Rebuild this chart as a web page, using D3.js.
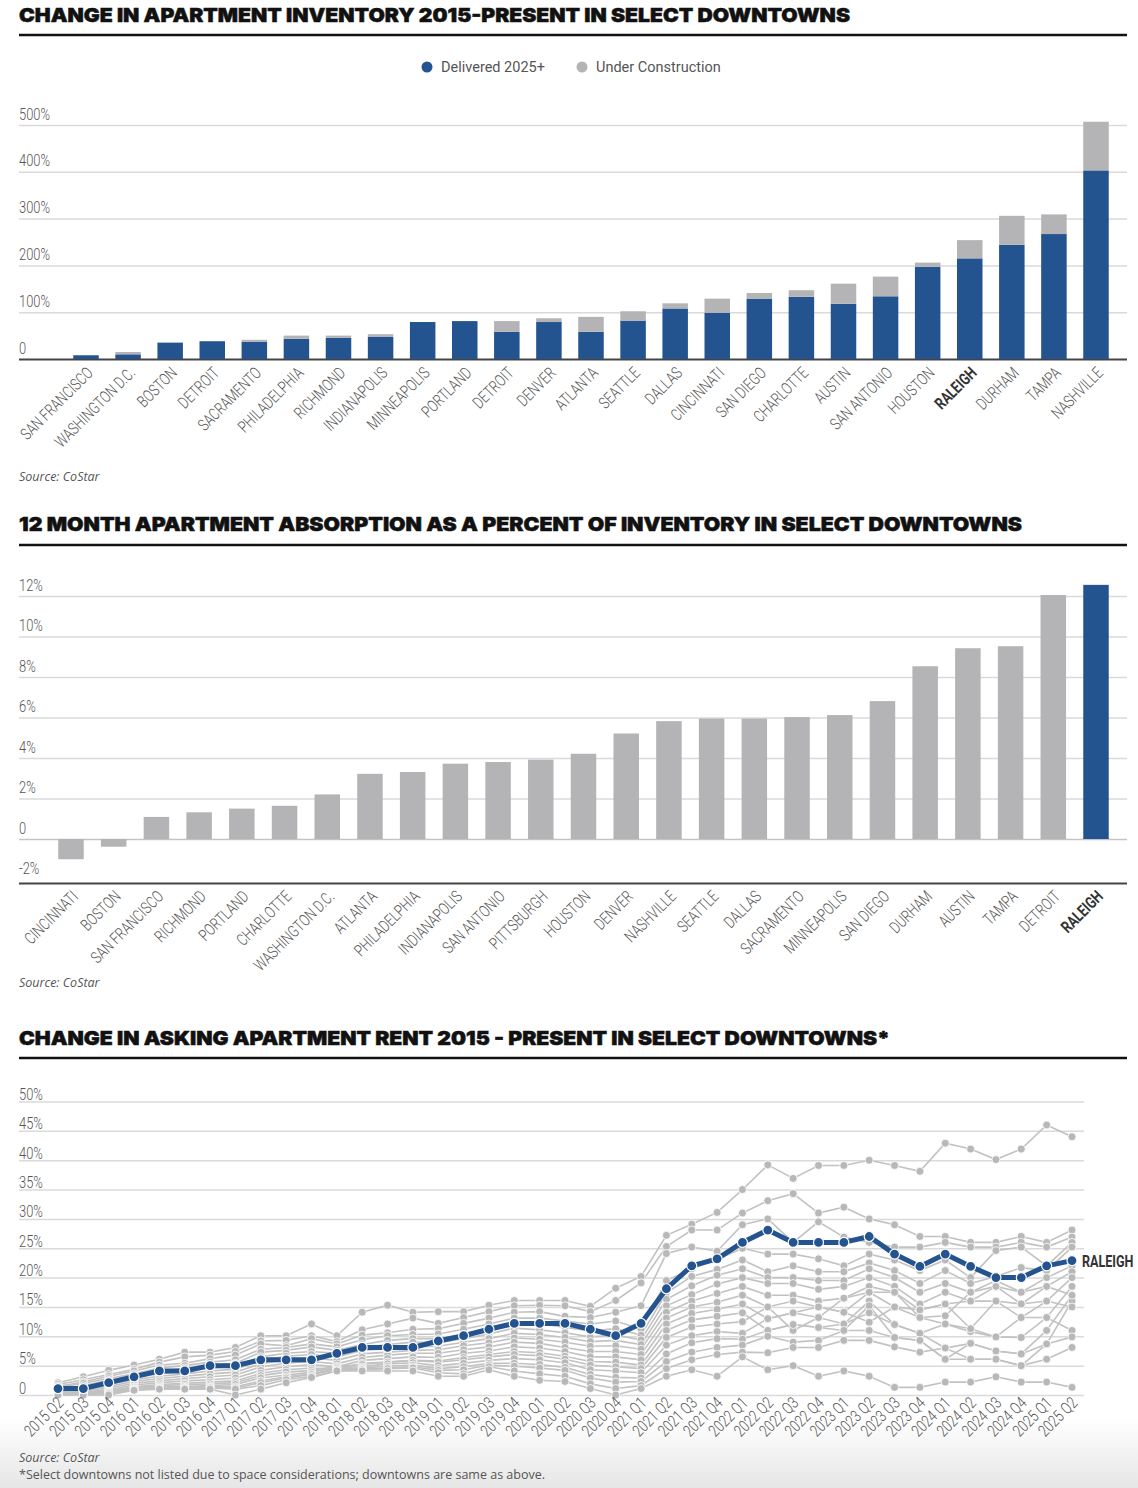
<!DOCTYPE html>
<html><head><meta charset="utf-8">
<script src="https://cdn.jsdelivr.net/npm/d3@7"></script>
<style>
html,body{margin:0;padding:0;background:#fff;}
svg{display:block;}
.title{font-family:Inter,Lato,"Open Sans",sans-serif;font-weight:900;fill:#111;stroke:#111;stroke-width:0.5px;}
.cond{font-family:Roboto,"Open Sans",sans-serif;font-weight:300;fill:#555;}
.src{font-family:"Open Sans",sans-serif;font-style:italic;fill:#555;font-size:12.5px;}
.foot{font-family:"Open Sans",sans-serif;fill:#555;font-size:12.5px;}
.leg{font-family:Roboto,"Open Sans",sans-serif;font-weight:400;fill:#555;font-size:14.5px;}
</style></head><body>
<svg id="c" width="1138" height="1488"></svg>
<script>
// ---------- DATA ----------
const invCities = ["SAN FRANCISCO","WASHINGTON D.C.","BOSTON","DETROIT","SACRAMENTO","PHILADELPHIA","RICHMOND","INDIANAPOLIS","MINNEAPOLIS","PORTLAND","DETROIT","DENVER","ATLANTA","SEATTLE","DALLAS","CINCINNATI","SAN DIEGO","CHARLOTTE","AUSTIN","SAN ANTONIO","HOUSTON","RALEIGH","DURHAM","TAMPA","NASHVILLE"];
const invDelivered = [8,10,35,38,37,43,45,47,79,81,58,79,58,82,108,99,129,133,118,134,197,215,244,267,403];
const invUnderConstruction = [0,5,0,0,4,7,5,6,0,0,23,8,32,20,11,30,12,14,43,42,9,39,62,42,104];
const invTicks = [0,100,200,300,400,500];
const invLegend = ["Delivered 2025+","Under Construction"];

const absCities = ["CINCINNATI","BOSTON","SAN FRANCISCO","RICHMOND","PORTLAND","CHARLOTTE","WASHINGTON D.C.","ATLANTA","PHILADELPHIA","INDIANAPOLIS","SAN ANTONIO","PITTSBURGH","HOUSTON","DENVER","NASHVILLE","SEATTLE","DALLAS","SACRAMENTO","MINNEAPOLIS","SAN DIEGO","DURHAM","AUSTIN","TAMPA","DETROIT","RALEIGH"];
const absValues = [-1.0,-0.38,1.09,1.32,1.5,1.64,2.2,3.22,3.31,3.72,3.8,3.92,4.21,5.21,5.82,5.95,5.95,6.02,6.12,6.81,8.53,9.42,9.52,12.05,12.55];
const absTicks = [-2,0,2,4,6,8,10,12];

const quarters = ["2015 Q2","2015 Q3","2015 Q4","2016 Q1","2016 Q2","2016 Q3","2016 Q4","2017 Q1","2017 Q2","2017 Q3","2017 Q4","2018 Q1","2018 Q2","2018 Q3","2018 Q4","2019 Q1","2019 Q2","2019 Q3","2019 Q4","2020 Q1","2020 Q2","2020 Q3","2020 Q4","2021 Q1","2021 Q2","2021 Q3","2021 Q4","2022 Q1","2022 Q2","2022 Q3","2022 Q4","2023 Q1","2023 Q2","2023 Q3","2023 Q4","2024 Q1","2024 Q2","2024 Q3","2024 Q4","2025 Q1","2025 Q2"];
const raleighRent = [1.1,1.1,2.1,3.1,4.1,4.1,5,5,6,6,6,7.1,8.1,8.1,8.1,9.2,10.1,11.2,12.2,12.2,12.2,11.2,10.1,12.2,18.1,22,23.2,26,28.1,26,26,26,27,24,21.9,24,21.9,20,20,22,22.9];
const otherRent1 = [2.1,3.1,4.2,5.1,6.1,7.3,7.3,8.1,10.1,10.1,12.1,10.1,14.1,15.3,14.1,14.2,14.2,15.3,16.1,16.1,16.1,15.1,18.2,20.2,27.2,29.1,31.1,35,39.2,36.9,39.1,39.1,40,39.1,38.1,42.9,41.9,40.1,41.9,46,44];
const otherRent2 = [1.8,2.6,3.5,4.4,5.6,6.5,6.8,7.4,9.2,9.3,10.1,9.1,11.1,12.1,13.1,12.2,13.2,14.2,15.2,15.3,15.2,14.2,16.1,19.1,25.3,28.1,28.1,31,33.1,34.3,31,32,30,29,27,27,26,26,27,26,28.1];
const otherRent3 = [1.5,2.2,3.2,4.1,5.1,5.4,6.2,6.8,8.7,8.4,9.6,8.7,10.2,10.6,11.2,11.3,12.2,13.1,14.1,14.2,13.4,13.2,14.1,15.2,24.1,25.2,24.5,29,30,26,29.5,26.9,26,25.2,25.2,26,25.2,25.2,26,25.2,26.9];
const otherRent4 = [1.3,2.0,2.8,3.6,4.6,5.0,5.6,6.0,7.8,8.1,8.7,8.2,9.4,10.1,10.3,10.4,11.2,12.1,13.1,13.1,12.6,12.1,12.6,11.2,19.5,21.5,23.1,25,24,24,23.2,22,24,23,21.2,23,20,24.6,25.2,22,26];
const otherRent5 = [1.0,1.6,2.5,3.3,4.0,4.6,5.1,5.4,7.3,7.6,8.2,7.6,8.6,9.3,9.6,9.6,10.3,11.2,12.3,12.2,11.5,10.9,11.3,10.2,17.4,20.2,21.4,23,21,22,21,21,22.5,21.2,19,21.2,19,20.2,21.7,21.2,25.2];
const otherRent6 = [0.9,1.3,2.1,3.0,3.6,4.1,4.6,4.9,6.5,7.1,7.4,7.1,8.1,8.6,9.0,8.9,9.6,10.4,11.4,11.1,10.6,9.9,10.2,9.4,16.3,18.6,20.4,21.5,20,20,19.5,19.5,21.5,20,17.5,19,17.5,19.5,17.5,20,22];
const otherRent7 = [0.7,1.1,1.8,2.6,3.2,3.6,4.1,4.4,5.9,6.6,6.9,6.5,7.6,7.9,8.2,8.3,9.0,9.6,10.5,10.3,9.8,9.1,9.3,8.6,15.2,17.1,18.9,20,19,19,18,18.5,20,18.5,15.5,17.5,16,18.5,15.5,18.5,21];
const otherRent8 = [0.5,0.9,1.5,2.3,2.8,3.2,3.6,3.9,5.3,6.0,6.3,5.9,7.0,7.3,7.6,7.7,8.4,8.9,9.7,9.5,9.0,8.3,8.4,7.8,14.1,16.0,17.3,18.5,17,17,16,16.5,18.5,17.5,14.5,15.5,11.3,16,13.2,16,20];
const otherRent9 = [0.4,0.7,1.2,2.0,2.4,2.8,3.1,3.4,4.8,5.4,5.7,5.3,6.4,6.8,7.1,7.1,7.7,8.2,9.0,8.8,8.1,7.4,7.4,6.9,13.1,15.0,15.8,17,15,16,15,14.1,17.5,15,13.2,12.1,10.8,9.9,9.8,13.2,18.5];
const otherRent10 = [0.3,0.5,0.9,1.7,2.1,2.4,2.6,2.9,4.2,4.8,5.2,4.8,5.9,6.2,6.5,6.4,7.1,7.5,8.2,8.0,7.4,6.5,6.5,6.0,12.1,13.9,14.6,15.5,13,14,13.2,12.1,16,12,10.5,8,8.8,7.5,7,11,17];
const otherRent11 = [0.2,0.4,0.7,1.4,1.8,2.0,2.2,2.4,3.7,4.3,4.6,4.4,5.4,5.6,5.9,5.8,6.4,6.9,7.4,7.2,6.6,5.7,5.6,5.1,11.0,12.8,13.4,14,11,12,11.5,11,15.2,9.8,9.3,6.1,6.1,6.1,5,8.7,16];
const otherRent12 = [0.1,0.3,0.6,1.3,1.6,1.8,1.9,2.1,3.3,3.9,4.2,4.9,5.2,5.6,5.9,5.6,6.0,6.5,6.9,6.7,6.1,5.1,4.8,4.5,9.8,11.6,12.1,12.5,15,11,13.2,16.5,17.5,17.5,13.2,13.5,17.5,18.5,17.5,18.5,17];
const otherRent13 = [0,0.2,0.5,1.1,1.4,1.5,1.6,1.8,2.9,3.4,3.9,4.7,4.8,5.3,5.5,5.0,5.4,5.9,6.2,6.0,5.5,4.3,4.1,3.8,8.5,10.1,10.8,10.5,13,14,15,14.1,12.4,15,14.5,15.5,16,16,15.5,16,15];
const otherRent14 = [0,0.2,0.4,1.0,1.2,1.3,1.4,1.4,2.4,3.1,3.6,4.5,4.6,4.9,5.1,4.5,4.8,5.4,5.4,5.2,4.7,3.5,3.0,2.9,7.0,8.9,9.6,9.5,11,12,11.5,12.1,14,12,10.5,12.1,11.3,9.9,13.2,13.2,11];
const otherRent15 = [0,0.2,0.3,0.9,1.2,1.2,1.3,1.2,2.1,2.9,3.5,4.3,4.4,4.6,4.8,4.2,4.3,5.1,4.9,4.6,4.2,2.9,2.2,2.3,5.7,7.3,8.1,8.5,10,9,9.3,11,11,9.8,9.3,6.1,8.8,7.5,7,8.7,9.9];
const otherRent16 = [0,0.1,0.2,0.8,1.1,1.1,1.2,1.0,1.6,2.6,3.2,4.1,4.3,4.5,4.6,3.8,3.6,4.8,4.1,3.6,3.2,1.9,1.1,1.6,4.5,6.0,6.9,7.3,7.2,8.1,8.1,9.3,9.3,8.2,7.3,8,6.1,6.1,5,6.1,8.1];
const otherRent17 = [0,0,0,0.8,1.0,1.0,1.0,0,1.0,2.1,3.0,4.1,4.1,4.1,4.1,3.2,3.2,4.3,3.2,2.5,2.3,1.1,0,1.1,3.2,4.3,3.2,6.5,4.3,5,3.2,4.1,3.2,1.3,1.3,2.2,2.2,3.1,2.2,2.2,1.3];
const otherRent = [otherRent1,otherRent2,otherRent3,otherRent4,otherRent5,otherRent6,otherRent7,otherRent8,otherRent9,otherRent10,otherRent11,otherRent12,otherRent13,otherRent14,otherRent15,otherRent16,otherRent17];
const rentTicks = [0,5,10,15,20,25,30,35,40,45,50];

// ---------- STYLE ----------
const BLUE = "#24548f", GRAYBAR = "#b4b4b6", GRID = "#dadada";
const svg = d3.select("#c");
const L = 19, R = 1127;

const defs = svg.append("defs");
const grad = defs.append("linearGradient").attr("id","fade").attr("x1",0).attr("x2",0).attr("y1",0).attr("y2",1);
grad.append("stop").attr("offset","0%").attr("stop-color","#ffffff");
grad.append("stop").attr("offset","100%").attr("stop-color","#e6e6e6");
svg.append("rect").attr("x",0).attr("y",1418).attr("width",1138).attr("height",70).attr("fill","url(#fade)");

function title(y, text, len){
  svg.append("text").attr("class","title").attr("x",L).attr("y",y).attr("font-size",19)
    .attr("textLength",len).attr("lengthAdjust","spacingAndGlyphs").text(text);
}
function rule(y){
  svg.append("line").attr("x1",L).attr("x2",R).attr("y1",y).attr("y2",y).attr("stroke","#111").attr("stroke-width",2.5);
}
function styleYAxis(g, dy){
  g.select(".domain").remove();
  g.selectAll(".tick line").attr("stroke",GRID).attr("stroke-width",1.5);
  g.selectAll(".tick text").attr("class","cond").attr("x",0).attr("dy",0).attr("y",-dy)
    .attr("text-anchor","start").attr("font-size",17).attr("transform","scale(0.76,1)");
}
function styleXAxis(g, tx, ty, boldName){
  g.select(".domain").remove();
  g.selectAll(".tick line").remove();
  g.selectAll(".tick text").attr("class","cond").attr("x",0).attr("y",0).attr("dy",0)
    .attr("text-anchor","end").attr("font-size",16.5)
    .attr("transform",`translate(${tx},${ty}) rotate(-45) scale(0.76,1)`)
    .each(function(){ const t=d3.select(this); if(t.text()===boldName){ t.style("font-weight",700).style("fill","#333"); } });
}

// ---------- CHART 1 ----------
title(22, "CHANGE IN APARTMENT INVENTORY 2015-PRESENT IN SELECT DOWNTOWNS", 831);
rule(35);
const legX = [427, 582];
const legC = [BLUE, GRAYBAR];
invLegend.forEach((t,i)=>{
  svg.append("circle").attr("cx",legX[i]).attr("cy",67).attr("r",5.5).attr("fill",legC[i]);
  svg.append("text").attr("class","leg").attr("x",legX[i]+14).attr("y",72).text(t);
});
const yInv = d3.scaleLinear().domain([0,500]).range([359,125]);
const xInv = d3.scaleBand().domain(d3.range(invCities.length)).range([73.25,1108.75]).paddingInner(0.394).paddingOuter(0);
const gy1 = svg.append("g").attr("transform",`translate(${L},0)`)
  .call(d3.axisLeft(yInv).tickValues(invTicks).tickSize(-(R-L)).tickFormat(d=>d===0?"0":d+"%"));
styleYAxis(gy1, 6);
gy1.selectAll(".tick line").filter(d=>d===0).attr("stroke","#444").attr("stroke-width",2);
svg.append("g").selectAll("rect.d").data(invDelivered).join("rect")
  .attr("x",(d,i)=>xInv(i)).attr("width",xInv.bandwidth())
  .attr("y",d=>yInv(d)).attr("height",d=>yInv(0)-yInv(d)).attr("fill",BLUE);
svg.append("g").selectAll("rect.u").data(invUnderConstruction).join("rect")
  .attr("x",(d,i)=>xInv(i)).attr("width",xInv.bandwidth())
  .attr("y",(d,i)=>yInv(invDelivered[i]+d)).attr("height",(d,i)=>yInv(invDelivered[i])-yInv(invDelivered[i]+d)).attr("fill",GRAYBAR);
const gx1 = svg.append("g").attr("transform","translate(0,359)")
  .call(d3.axisBottom(xInv).tickSize(0).tickFormat(i=>invCities[i]));
styleXAxis(gx1, 8, 15, "RALEIGH");
svg.append("text").attr("class","src").attr("x",L).attr("y",481).text("Source: CoStar");

// ---------- CHART 2 ----------
title(531, "12 MONTH APARTMENT ABSORPTION AS A PERCENT OF INVENTORY IN SELECT DOWNTOWNS", 1003);
rule(545);
const yAbs = d3.scaleLinear().domain([-2.2,12]).range([883.55,596]);
const xAbs = d3.scaleBand().domain(d3.range(absCities.length)).range([58.25,1108.75]).paddingInner(0.403).paddingOuter(0);
const gy2 = svg.append("g").attr("transform",`translate(${L},0)`)
  .call(d3.axisLeft(yAbs).tickValues(absTicks).tickSize(-(R-L)).tickFormat(d=>d===0?"0":d+"%"));
styleYAxis(gy2, 6);
gy2.selectAll(".tick line").filter(d=>d===-2).remove();
gy2.selectAll(".tick line").filter(d=>d===0).attr("stroke","#c4c4c4");
svg.append("line").attr("x1",L).attr("x2",R).attr("y1",yAbs(-2.2)).attr("y2",yAbs(-2.2)).attr("stroke","#444").attr("stroke-width",2);
svg.append("g").selectAll("rect").data(absValues).join("rect")
  .attr("x",(d,i)=>xAbs(i)).attr("width",xAbs.bandwidth())
  .attr("y",d=>yAbs(Math.max(0,d))).attr("height",d=>Math.abs(yAbs(d)-yAbs(0)))
  .attr("fill",(d,i)=>absCities[i]==="RALEIGH"?BLUE:GRAYBAR);
const gx2 = svg.append("g").attr("transform",`translate(0,${yAbs(-2.2)})`)
  .call(d3.axisBottom(xAbs).tickSize(0).tickFormat(i=>absCities[i]));
styleXAxis(gx2, 8, 14, "RALEIGH");
svg.append("text").attr("class","src").attr("x",L).attr("y",987).text("Source: CoStar");

// ---------- CHART 3 ----------
title(1045, "CHANGE IN ASKING APARTMENT RENT 2015 - PRESENT IN SELECT DOWNTOWNS*", 871);
rule(1058);
const yRent = d3.scaleLinear().domain([0,50]).range([1395,1101.5]);
const xRent = d3.scalePoint().domain(quarters).range([58,1072]);
const gridR = 1084;
const gy3 = svg.append("g").attr("transform",`translate(${L},0)`)
  .call(d3.axisLeft(yRent).tickValues(rentTicks).tickSize(-(gridR-L)).tickFormat(d=>d===0?"0":d+"%"));
styleYAxis(gy3, 2);
const line = d3.line().x((d,i)=>xRent(quarters[i])).y(d=>yRent(d));
const gOther = svg.append("g");
otherRent.forEach(s=>{
  gOther.append("path").datum(s).attr("d",line).attr("fill","none").attr("stroke","#c2c2c2").attr("stroke-width",1.6);
});
otherRent.forEach(s=>{
  gOther.append("g").selectAll("circle").data(s).join("circle")
    .attr("cx",(d,i)=>xRent(quarters[i])).attr("cy",d=>yRent(d)).attr("r",4)
    .attr("fill","#b8b8b8").attr("stroke","#fff").attr("stroke-width",0.8);
});
svg.append("path").datum(raleighRent).attr("d",line).attr("fill","none").attr("stroke",BLUE).attr("stroke-width",5).attr("stroke-linejoin","round");
svg.append("g").selectAll("circle").data(raleighRent).join("circle")
  .attr("cx",(d,i)=>xRent(quarters[i])).attr("cy",d=>yRent(d)).attr("r",5)
  .attr("fill",BLUE).attr("stroke","#fff").attr("stroke-width",1.2);
svg.append("text").attr("class","cond").attr("font-size",17).style("font-weight",700).style("fill","#333")
  .attr("transform",`translate(${xRent(quarters[quarters.length-1])+10},${yRent(raleighRent[raleighRent.length-1])+6}) scale(0.74,1)`)
  .text("RALEIGH");
const gx3 = svg.append("g").attr("transform","translate(0,1395)")
  .call(d3.axisBottom(xRent).tickSize(0));
gx3.select(".domain").remove();
gx3.selectAll(".tick text").attr("class","cond").attr("x",0).attr("y",0).attr("dy",0)
  .attr("text-anchor","end").attr("font-size",16.5)
  .attr("transform","translate(6,9) rotate(-45) scale(0.78,1)");
svg.append("text").attr("class","src").attr("x",L).attr("y",1462).text("Source: CoStar");
svg.append("text").attr("class","foot").attr("x",L).attr("y",1479).text("*Select downtowns not listed due to space considerations; downtowns are same as above.");
</script></body></html>
